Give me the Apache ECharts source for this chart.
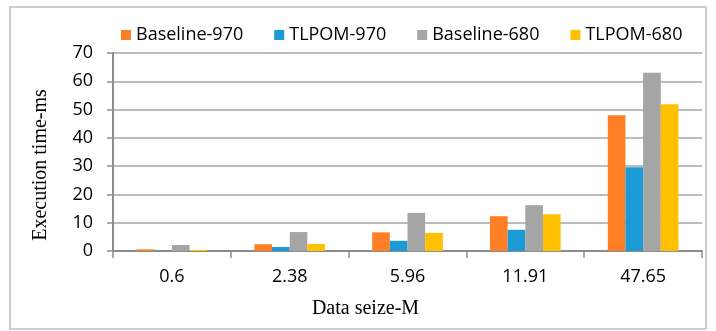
<!DOCTYPE html>
<html><head><meta charset="utf-8">
<script src="https://cdn.jsdelivr.net/npm/echarts@6/dist/echarts.min.js"></script>
<style>html,body{margin:0;padding:0;background:#fff}#c{width:716px;height:331px}</style>
</head><body><div id="c"></div>
<script>
const categories = ['0.6', '2.38', '5.96', '11.91', '47.65'];
const baseline970 = [0.6, 2.4, 6.6, 12.3, 48.0];
const tlpom970 = [0.1, 1.4, 3.6, 7.5, 29.6];
const baseline680 = [2.1, 6.7, 13.5, 16.2, 63.0];
const tlpom680 = [0.4, 2.5, 6.4, 13.0, 51.9];
const seriesNames = ['Baseline-970', 'TLPOM-970', 'Baseline-680', 'TLPOM-680'];
const colors = ['#FF7F27', '#1B9AD6', '#A5A5A5', '#FFC000'];

const sansFont = '"Open Sans", sans-serif';
const serifFont = '"Liberation Serif", "DejaVu Serif", serif';

const chart = echarts.init(document.getElementById('c'));
const mk = (name, data, i) => ({
  name, type: 'bar', data, barGap: '0%', barCategoryGap: '40%',
  itemStyle: { color: colors[i] }
});
chart.setOption({
  animation: false,
  color: colors,
  graphic: [{ type: 'rect', shape: { x: 10, y: 7, width: 696, height: 322 },
    style: { fill: 'none', stroke: '#BFBFBF', lineWidth: 1.5 } }],
  legend: {
    top: 21, left: 116, itemWidth: 10, itemHeight: 10, itemGap: 31,
    icon: 'rect',
    textStyle: { fontFamily: sansFont, fontSize: 18, color: '#000' },
    data: seriesNames
  },
  grid: { left: 113, right: 14, top: 53, bottom: 80 },
  xAxis: {
    type: 'category', data: categories,
    name: 'Data seize-M', nameLocation: 'middle', nameGap: 48,
    nameTextStyle: { fontFamily: serifFont, fontSize: 20, color: '#000', padding: [0, 84, 0, 0] },
    axisLine: { lineStyle: { color: '#8C8C8C', width: 2 } },
    axisTick: { show: true, length: 7, lineStyle: { color: '#8C8C8C', width: 1.5 } },
    axisLabel: { fontFamily: sansFont, fontSize: 18, color: '#000', margin: 17 }
  },
  yAxis: {
    type: 'value', min: 0, max: 70, interval: 10,
    name: 'Execution time-ms', nameLocation: 'middle', nameGap: 62,
    nameTextStyle: { fontFamily: serifFont, fontSize: 20, color: '#000', padding: [0, 26, 0, 0] },
    axisLine: { show: true, lineStyle: { color: '#8C8C8C', width: 2 } },
    axisTick: { show: true, length: 6, lineStyle: { color: '#8C8C8C', width: 1.5 } },
    axisLabel: { fontFamily: sansFont, fontSize: 18, color: '#000', margin: 20 },
    splitLine: { lineStyle: { color: '#A6A6A6', width: 1.5 } }
  },
  series: [
    mk(seriesNames[0], baseline970, 0),
    mk(seriesNames[1], tlpom970, 1),
    mk(seriesNames[2], baseline680, 2),
    mk(seriesNames[3], tlpom680, 3)
  ]
});
</script></body></html>
